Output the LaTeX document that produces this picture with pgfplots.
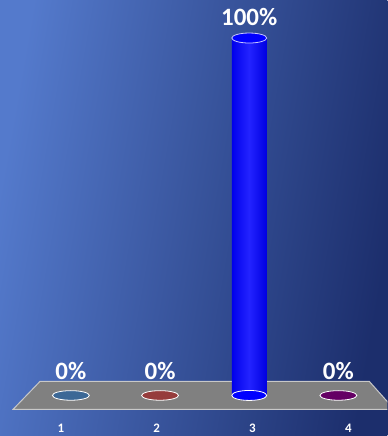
\documentclass[border=0pt]{standalone}
\usepackage{pgfplots}
\pgfplotsset{compat=1.18}
\usepackage{fontspec}
\setmainfont{Carlito}
\definecolor{bgL}{RGB}{84,122,204}
\definecolor{bgR}{RGB}{28,46,108}
\definecolor{floorc}{RGB}{128,128,128}
\definecolor{flooredge}{RGB}{200,200,200}
\definecolor{c1}{RGB}{60,104,150}
\definecolor{c2}{RGB}{150,60,60}
\definecolor{c4}{RGB}{100,0,100}
\definecolor{barL}{RGB}{0,0,235}
\definecolor{barM}{RGB}{35,35,255}
\definecolor{barR}{RGB}{0,0,225}
\definecolor{topedge}{RGB}{200,200,255}
\pgfdeclareplotmark{ellipA}{\pgfpathellipse{\pgfpointorigin}{\pgfqpoint{18.5pt}{0pt}}{\pgfqpoint{0pt}{4.8pt}}\pgfusepathqfillstroke}
\pgfdeclareplotmark{ellipB}{\pgfpathellipse{\pgfpointorigin}{\pgfqpoint{17.5pt}{0pt}}{\pgfqpoint{0pt}{5pt}}\pgfusepathqfillstroke}
\begin{document}
\begin{tikzpicture}
\shade[left color=bgL, right color=bgR, shading angle=80] (0pt,-16pt) rectangle (388pt,420pt);
\begin{axis}[
  at={(0pt,0pt)}, anchor=south west,
  scale only axis, width=388pt, height=420pt,
  xmin=0.205, xmax=4.549, ymin=-6.70, ymax=110.61,
  axis line style={draw=none}, major tick length=0pt,
  ytick=\empty,
  xtick={0.888,1.963,3.037,4.112}, xticklabels={1,2,3,4},
  xticklabel style={font=\bfseries\fontsize{13}{14}\selectfont, text=white, anchor=center, yshift=-9pt},
  /pgf/number format/assume math mode=true,
  point meta=y,
  nodes near coords={\pgfmathprintnumber{\pgfplotspointmeta}\%},
  every node near coord/.append style={font=\bfseries\fontsize{25}{27}\selectfont, text=white, anchor=center},
  clip=false,
]
\begin{scope}
\clip (axis cs:0.205,-6.7) rectangle (axis cs:4.549,110.61);
\fill[floorc, draw=flooredge, line width=1pt]
  (axis cs:0.653,3.91) -- (axis cs:4.347,3.91) -- (axis cs:4.627,-3.91) -- (axis cs:0.351,-3.91) -- cycle;
\end{scope}
\addplot[only marks, mark=ellipA, mark options={fill=c1, draw=white, line width=0.8pt},
  every node near coord/.append style={yshift=24pt}] coordinates {(1,0)};
\addplot[only marks, mark=ellipA, mark options={fill=c2, draw=white, line width=0.8pt},
  every node near coord/.append style={yshift=24pt}] coordinates {(2,0)};
\addplot[only marks, mark=ellipA, mark options={fill=c4, draw=white, line width=0.8pt},
  every node near coord/.append style={yshift=24pt}] coordinates {(4,0)};
\addplot[only marks, mark=ellipB, mark options={fill=blue, draw=white, line width=0.8pt},
  nodes near coords={}] coordinates {(3,0)};
\addplot[ybar, bar width=35pt, draw=none, left color=barL, right color=barR, middle color=barM,
  nodes near coords={}] coordinates {(3,100)};
\addplot[only marks, mark=ellipB, mark options={fill=blue, draw=topedge, line width=0.8pt},
  every node near coord/.append style={yshift=21pt}] coordinates {(3,100)};
\end{axis}
\end{tikzpicture}
\end{document}
